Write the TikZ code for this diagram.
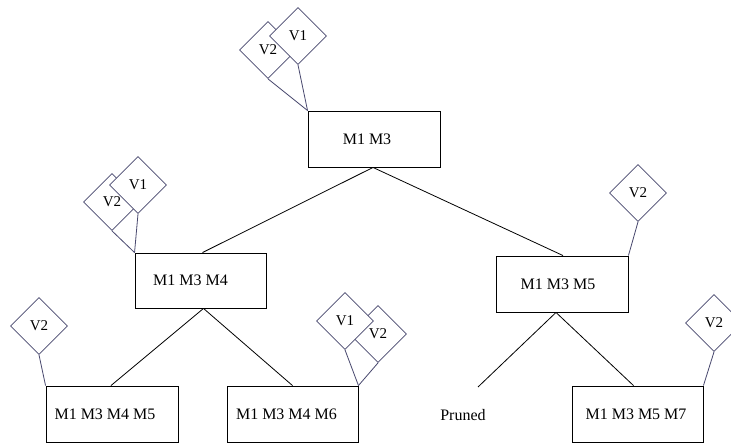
\documentclass[tikz,border=0pt]{standalone}
\usepackage{fontspec}
\setmainfont{Liberation Serif}
\usetikzlibrary{shapes.geometric}
\definecolor{vcol}{RGB}{72,72,110}
\begin{document}
\begin{tikzpicture}[x=1pt,y=-1pt,
  box/.style={draw=black, line width=0.9pt, rectangle, inner sep=0pt,
    minimum width=132pt, minimum height=56pt, font=\fontsize{16}{19}\selectfont},
  vnode/.style={diamond, aspect=1, draw=vcol, line width=0.8pt, fill=white,
    inner sep=0pt, minimum width=57pt, minimum height=57pt,
    font=\fontsize{15}{17}\selectfont},
  tedge/.style={draw=black, line width=0.8pt},
  vedge/.style={draw=vcol, line width=0.8pt},
  plain/.style={inner sep=0pt, font=\fontsize{16}{19}\selectfont}]
\useasboundingbox (0,0) rectangle (731,442);
\fill[white] (0,0) rectangle (731,442);

% boxes
\node[box] (m13) at (374,139) {M1 M3\hspace*{14pt}};
\node[box, minimum width=131pt, minimum height=55pt] (m134) at (200.5,280.5) {M1 M3 M4\hspace*{20pt}};
\node[box] (m135) at (562,284) {M1 M3 M5\hspace*{8pt}};
\node[box] (m1345) at (112,414) {M1 M3 M4 M5\hspace*{14pt}};
\node[box, minimum width=131pt] (m1346) at (292.5,414) {M1 M3 M4 M6\hspace*{12pt}};
\node[box, minimum width=131pt] (m1357) at (637.5,414) {M1 M3 M5 M7\hspace*{3pt}};
\node[plain] (pruned) at (463,415) {Pruned};
\coordinate (pe) at (478,387);

% tree edges
\draw[tedge] ([xshift=-1pt]m13.south) -- ([xshift=2pt]m134.north);
\draw[tedge] ([xshift=-1pt]m13.south) -- ([xshift=1pt]m135.north);
\draw[tedge] ([xshift=3pt]m134.south) -- ([xshift=-1pt]m1345.north);
\draw[tedge] ([xshift=3pt]m134.south) -- (m1346.north);
\draw[tedge] ([xshift=-6pt]m135.south) -- (pe);
\draw[tedge] ([xshift=-6pt]m135.south) -- ([xshift=-4pt]m1357.north);

% diamonds: top box
\node[vnode] (t2) at (268,50) {V2};
\node[vnode] (t1) at (298,36) {V1};
\draw[vedge] (t2.south) -- (m13.north west);
\draw[vedge] (t1.south) -- (m13.north west);

% diamonds: M1 M3 M4
\node[vnode] (a2) at (112,202) {V2};
\node[vnode] (a1) at (138,185) {V1};
\draw[vedge] (a2.south) -- (m134.north west);
\draw[vedge] (a1.south) -- (m134.north west);

% diamonds: M1 M3 M4 M6
\node[vnode] (b2) at (378,334) {V2};
\node[vnode] (b1) at (345,321) {V1};
\draw[vedge] (b1.south) -- (m1346.north east);
\draw[vedge] (b2.south) -- (m1346.north east);

% diamonds: M1 M3 M5
\node[vnode] (c2) at (638,193) {V2};
\draw[vedge] (c2.south) -- (m135.north east);

% diamonds: M1 M3 M4 M5
\node[vnode] (d2) at (39,326) {V2};
\draw[vedge] (d2.south) -- (m1345.north west);

% diamonds: M1 M3 M5 M7
\node[vnode] (e2) at (714,323) {V2};
\draw[vedge] (e2.south) -- (m1357.north east);
\end{tikzpicture}
\end{document}
